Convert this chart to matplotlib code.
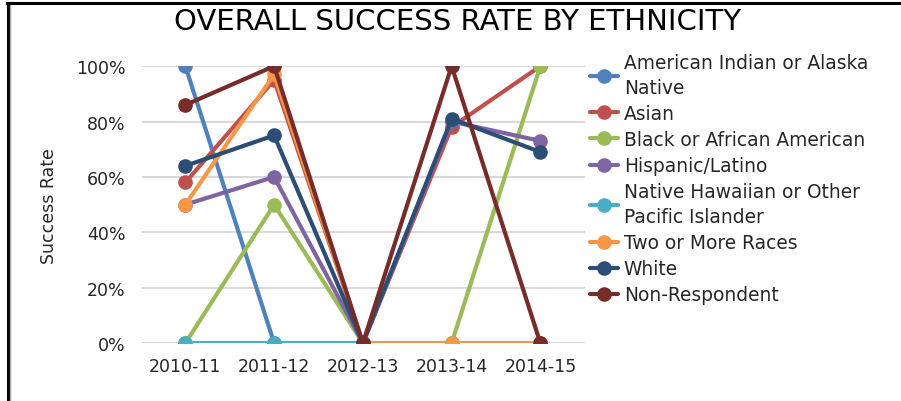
import matplotlib.pyplot as plt
from matplotlib.lines import Line2D

anos = ["2010-11", "2011-12", "2012-13", "2013-14", "2014-15"]

# taxas de sucesso (%) por grupo
indigena = [100, 0, 0, 0, 0]
asiatico = [58, 95, 0, 78, 100]
negro = [0, 50, 0, 0, 100]
hispanico = [50, 60, 0, 80, 73]
havaiano = [0, 0, 0, 0, 0]
mais_racas = [50, 97, 0, 0, 0]
branco = [64, 75, 0, 81, 69]
nao_resp = [86, 100, 0, 100, 0]

nomes = ["American Indian or Alaska\nNative", "Asian", "Black or African American",
         "Hispanic/Latino", "Native Hawaiian or Other\nPacific Islander",
         "Two or More Races", "White", "Non-Respondent"]
series = [indigena, asiatico, negro, hispanico, havaiano, mais_racas, branco, nao_resp]
cores = ["#4F81BD", "#C0504D", "#9BBB59", "#8064A2", "#4BACC6", "#F79646", "#2C4D75", "#772C2A"]

fonte = "DejaVu Sans"

fig = plt.figure(figsize=(9.01, 4.02), dpi=100)
ax = fig.add_axes([0.158, 0.144, 0.491, 0.689])

x = list(range(len(anos)))
for s, nome, cor in zip(series, nomes, cores):
    ax.plot(x, [v / 100 for v in s], "-o", color=cor, lw=3, ms=9.5, label=nome,
            solid_capstyle="round", solid_joinstyle="round")

ax.set_xlim(-0.485, 4.5)
ax.set_ylim(0, 1)
ax.set_yticks([0, 0.2, 0.4, 0.6, 0.8, 1.0])
ax.set_yticklabels(["0%", "20%", "40%", "60%", "80%", "100%"], family=fonte, fontsize=12.5, color="#262626")
ax.set_xticks(x)
ax.set_xticklabels(anos, family=fonte, fontsize=12.5, color="#262626")
ax.tick_params(length=0, pad=12)
ax.tick_params(axis="x", pad=10)
ax.grid(axis="y", color="#d9d9d9", lw=1.5)
ax.set_axisbelow(True)
for sp in ax.spines.values():
    sp.set_visible(False)
ax.set_ylabel("Success Rate", family=fonte, fontsize=12.5, color="#262626", labelpad=13)

fig.text(0.508, 0.945, "OVERALL SUCCESS RATE BY ETHNICITY", ha="center", va="center",
         family=fonte, fontsize=21, color="black")

leg = ax.legend(loc="upper left", bbox_to_anchor=(0.655, 0.866), bbox_transform=fig.transFigure,
                frameon=False, prop={"family": fonte, "size": 13.4}, handlelength=1.5,
                handletextpad=0.3, labelspacing=0.38, borderpad=0, borderaxespad=0)
for t in leg.get_texts():
    t.set_linespacing(1.4)
    t.set_color("#262626")

# moldura preta em cima e à esquerda
fig.add_artist(Line2D([0.009, 0.009], [0, 0.99], transform=fig.transFigure, color="black", lw=2.2))
fig.add_artist(Line2D([0.0115, 0.0115], [0, 0.985], transform=fig.transFigure, color="#a0a0a0", lw=1))
fig.add_artist(Line2D([0.008, 1.0], [0.99, 0.99], transform=fig.transFigure, color="black", lw=2.2))

fig.savefig("out.png", dpi=100)
